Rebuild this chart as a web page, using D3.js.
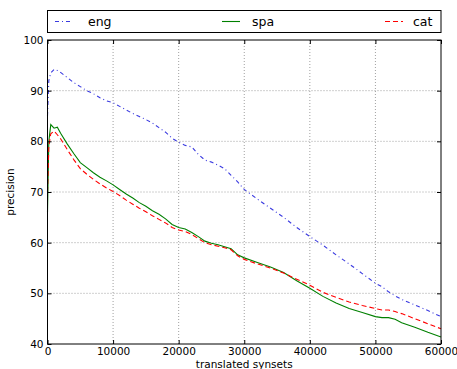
<!DOCTYPE html>
<html lang="en">
<head>
<meta charset="UTF-8">
<title>Precision vs translated synsets</title>
<script src="https://d3js.org/d3.v7.min.js"></script>
<style>
    body { margin: 0; background: #fff; font-family: "DejaVu Sans", sans-serif; }
    .tick text { font-size: 10.5px; fill: #000; font-family: "DejaVu Sans", sans-serif; }
    .grid line { stroke: #888; stroke-dasharray: 1,2; stroke-width: 0.8; }
    .axis-label { font-size: 10.5px; fill: #000; }
    .legend text { font-size: 12.5px; fill: #000; }
</style>
</head>
<body>
<svg id="chart" width="457" height="369"></svg>
<script>
    // Data
    const xs = [0, 200, 500, 1000, 1500, 2000, 3000, 4000, 5000, 6000, 7000, 8000, 9000, 10000,
        11000, 12000, 13000, 14000, 15000, 16000, 17000, 18000, 19000, 20000, 21000, 22000, 23000,
        24000, 25000, 26000, 27000, 28000, 29000, 30000, 32000, 34000, 36000, 38000, 40000, 42000,
        44000, 46000, 48000, 50000, 51000, 52000, 53000, 54000, 56000, 58000, 60000];
    const eng = [85, 92, 93.5, 94.2, 94, 93.6, 92.6, 91.6, 90.8, 90.0, 89.4, 88.6, 88.0, 87.6,
        86.9, 86.2, 85.5, 84.9, 84.3, 83.6, 82.7, 81.8, 80.6, 79.8, 79.2, 78.9, 77.4,
        76.3, 75.9, 75.3, 74.6, 73.3, 72.0, 70.5, 68.6, 66.8, 65.0, 63.0, 61.2, 59.5,
        57.6, 55.8, 53.9, 52.0, 51.3, 50.3, 49.5, 48.8, 47.7, 46.6, 45.4];
    const spa = [66, 80, 83.3, 82.6, 82.8, 81.6, 79.5, 77.6, 75.8, 74.8, 73.8, 72.9, 72.2, 71.4,
        70.5, 69.6, 68.8, 67.9, 67.2, 66.3, 65.6, 64.7, 63.6, 63.0, 62.7, 62.0, 61.2,
        60.3, 59.9, 59.6, 59.2, 58.8, 57.6, 57.0, 56.1, 55.2, 54.1, 52.5, 51.0, 49.4,
        48.1, 47.0, 46.2, 45.4, 45.2, 45.2, 44.9, 44.2, 43.3, 42.3, 41.4];
    const cat = [70, 79, 81.5, 82, 81.3, 80.5, 78.4, 76.4, 74.6, 73.5, 72.5, 71.6, 70.8, 70.1,
        69.3, 68.4, 67.6, 66.8, 66.1, 65.3, 64.6, 63.9, 63.0, 62.5, 62.2, 61.6, 60.8,
        60.0, 59.6, 59.3, 59.0, 58.6, 57.4, 56.7, 55.8, 55.0, 54.0, 52.8, 51.6, 50.2,
        49.2, 48.3, 47.6, 47.0, 46.7, 46.7, 46.4, 46.0, 45.0, 44.0, 43.0];
    const xTicks = [0, 10000, 20000, 30000, 40000, 50000, 60000];
    const yTicks = [40, 50, 60, 70, 80, 90, 100];

    const series = [
        { name: "eng", values: eng, color: "#3a3ae0", dash: "4,3,1,3" },
        { name: "spa", values: spa, color: "#008000", dash: null },
        { name: "cat", values: cat, color: "#ff0000", dash: "5,3" }
    ];

    const svg = d3.select("#chart");
    const plotL = 47.5, plotR = 441, plotT = 40, plotB = 344;

    const x = d3.scaleLinear().domain([0, 60000]).range([plotL, plotR]);
    const y = d3.scaleLinear().domain([40, 100]).range([plotB, plotT]);

    // grid
    const grid = svg.append("g").attr("class", "grid");
    grid.selectAll(".vx").data(xTicks.slice(1, -1)).enter().append("line")
        .attr("x1", d => x(d)).attr("x2", d => x(d)).attr("y1", plotT).attr("y2", plotB);
    grid.selectAll(".hy").data(yTicks.slice(1, -1)).enter().append("line")
        .attr("y1", d => y(d)).attr("y2", d => y(d)).attr("x1", plotL).attr("x2", plotR);

    // lines
    const line = d3.line().x((d, i) => x(xs[i])).y(d => y(d));
    series.forEach(s => {
        svg.append("path")
            .attr("d", line(s.values))
            .attr("fill", "none")
            .attr("stroke", s.color)
            .attr("stroke-width", 1.1)
            .attr("stroke-dasharray", s.dash);
    });

    // axes
    const xAxis = svg.append("g").attr("transform", `translate(0,${plotB})`)
        .call(d3.axisBottom(x).tickValues(xTicks).tickFormat(d3.format("d")).tickSizeInner(-4).tickSizeOuter(0));
    xAxis.selectAll(".tick text").attr("dy", "0.8em");
    const yAxis = svg.append("g").attr("transform", `translate(${plotL},0)`)
        .call(d3.axisLeft(y).tickValues(yTicks).tickSizeInner(-4).tickSizeOuter(0));
    yAxis.selectAll(".tick text").attr("x", -4);
    svg.append("g").attr("transform", `translate(0,${plotT})`)
        .call(d3.axisTop(x).tickValues(xTicks).tickFormat("").tickSizeInner(-4).tickSizeOuter(0));
    svg.append("g").attr("transform", `translate(${plotR},0)`)
        .call(d3.axisRight(y).tickValues(yTicks).tickFormat("").tickSizeInner(-4).tickSizeOuter(0));
    svg.selectAll(".domain").remove();
    svg.selectAll(".tick line").attr("stroke", "#000");

    svg.append("rect")
        .attr("x", plotL).attr("y", plotT)
        .attr("width", plotR - plotL).attr("height", plotB - plotT)
        .attr("fill", "none").attr("stroke", "#000").attr("stroke-width", 1);

    // axis labels
    svg.append("text").attr("class", "axis-label")
        .attr("x", (plotL + plotR) / 2).attr("y", 368)
        .attr("text-anchor", "middle").text("translated synsets");
    svg.append("text").attr("class", "axis-label")
        .attr("transform", `translate(14,${(plotT + plotB) / 2}) rotate(-90)`)
        .attr("text-anchor", "middle").text("precision");

    // legend
    const legend = svg.append("g").attr("class", "legend");
    legend.append("rect")
        .attr("x", plotL).attr("y", 10.5).attr("width", plotR - plotL).attr("height", 22)
        .attr("fill", "#fff").attr("stroke", "#000").attr("stroke-width", 1);
    const legendPos = [
        { x1: 55, tx: 88 },
        { x1: 222, tx: 252 },
        { x1: 385, tx: 413 }
    ];
    series.forEach((s, i) => {
        const p = legendPos[i];
        legend.append("line")
            .attr("x1", p.x1).attr("x2", p.x1 + 18)
            .attr("y1", 21.5).attr("y2", 21.5)
            .attr("stroke", s.color).attr("stroke-width", 1.1)
            .attr("stroke-dasharray", s.dash);
        legend.append("text").attr("x", p.tx).attr("y", 26).text(s.name);
    });
</script>
</body>
</html>
